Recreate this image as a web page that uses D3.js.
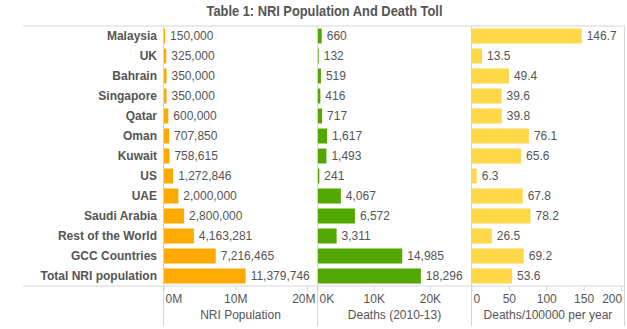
<!DOCTYPE html>
<html>
<head>
<meta charset="utf-8">
<script src="https://cdn.jsdelivr.net/npm/d3@7"></script>
<style>
  body { margin: 0; background: #fff; }
  text { font-family: "Liberation Sans", Arial, sans-serif; }
</style>
</head>
<body>
<script>
// rows, top to bottom
const countries = ['Malaysia', 'UK', 'Bahrain', 'Singapore', 'Qatar', 'Oman', 'Kuwait', 'US',
    'UAE', 'Saudi Arabia', 'Rest of the World', 'GCC Countries', 'Total NRI population'];
const population = [150000, 325000, 350000, 350000, 600000, 707850, 758615, 1272846,
    2000000, 2800000, 4163281, 7216465, 11379746];
const deaths = [660, 132, 519, 416, 717, 1617, 1493, 241, 4067, 6572, 3311, 14985, 18296];
const deathRate = [146.7, 13.5, 49.4, 39.6, 39.8, 76.1, 65.6, 6.3, 67.8, 78.2, 26.5, 69.2, 53.6];

const popTicks = [0, 10e6, 20e6];
const deathTicks = [0, 10000, 20000];
const rateTicks = [0, 50, 100, 150, 200];

const W = 627, H = 329;
const DIM = { top: 26, bottom: 286, frameLeft: 23, frameBottom: 326 };

const svg = d3.select('body').append('svg')
    .attr('width', W)
    .attr('height', H);

// title is set in a condensed bold face, squeezed to a fixed width
svg.append('text')
    .attr('x', 206.5)
    .attr('y', 16)
    .attr('textLength', 236)
    .attr('lengthAdjust', 'spacingAndGlyphs')
    .style('font-size', '14px')
    .style('font-weight', 'bold')
    .style('fill', '#555')
    .text('Table 1: NRI Population And Death Toll');

const y = d3.scaleBand()
    .domain(countries)
    .range([DIM.top, DIM.bottom])
    .paddingInner(0.25)
    .paddingOuter(0.125);

const panes = [
    { values: population, left: 163.5, right: 317.5, max: 21.4e6, ticks: popTicks,
      color: '#ffaa00', label: 'NRI Population', tickFmt: d => d3.format('.0f')(d / 1e6) + 'M',
      valueFmt: d3.format(',') },
    { values: deaths, left: 317.5, right: 471.5, max: 27300, ticks: deathTicks,
      color: '#52a800', label: 'Deaths (2010-13)', tickFmt: d => d3.format('.0f')(d / 1000) + 'K',
      valueFmt: d3.format(',') },
    { values: deathRate, left: 471.5, right: 624.5, max: 204, ticks: rateTicks,
      color: '#ffd84a', label: 'Deaths/100000 per year', tickFmt: d3.format('d'),
      valueFmt: d3.format('.1f') }
];

// frame lines
const lineColor = '#d6d6d6';
svg.append('line')
    .attr('x1', DIM.frameLeft).attr('x2', 625)
    .attr('y1', DIM.top).attr('y2', DIM.top)
    .attr('stroke', lineColor);
svg.append('line')
    .attr('x1', DIM.frameLeft).attr('x2', 625)
    .attr('y1', DIM.bottom).attr('y2', DIM.bottom)
    .attr('stroke', lineColor);
[163.5, 317.5, 471.5, 624.5].forEach(xv => {
    svg.append('line')
        .attr('x1', xv).attr('x2', xv)
        .attr('y1', DIM.top).attr('y2', DIM.frameBottom)
        .attr('stroke', lineColor);
});

// row labels
svg.append('g').selectAll('text')
    .data(countries)
    .join('text')
    .attr('x', 157)
    .attr('y', d => y(d) + y.bandwidth() / 2)
    .attr('dy', '0.35em')
    .attr('text-anchor', 'end')
    .style('font-size', '12px')
    .style('font-weight', 'bold')
    .style('fill', '#555')
    .text(d => d);

panes.forEach(p => {
    const x = d3.scaleLinear()
        .domain([0, p.max])
        .range([p.left + 0.5, p.right]);
    const g = svg.append('g');
    const rows = countries.map((c, i) => ({ name: c, value: p.values[i] }));

    g.selectAll('rect')
        .data(rows)
        .join('rect')
        .attr('x', x(0))
        .attr('y', d => y(d.name))
        .attr('width', d => x(d.value) - x(0))
        .attr('height', y.bandwidth())
        .attr('fill', p.color);

    g.selectAll('text.value')
        .data(rows)
        .join('text')
        .attr('class', 'value')
        .attr('x', d => x(d.value) + 5)
        .attr('y', d => y(d.name) + y.bandwidth() / 2)
        .attr('dy', '0.35em')
        .style('font-size', '12px')
        .style('fill', '#555')
        .text(d => p.valueFmt(d.value));

    // axis below the rows
    const axis = g.append('g');
    axis.selectAll('line')
        .data(p.ticks)
        .join('line')
        .attr('x1', d => x(d)).attr('x2', d => x(d))
        .attr('y1', DIM.bottom).attr('y2', DIM.bottom + 5)
        .attr('stroke', lineColor);
    axis.selectAll('text')
        .data(p.ticks)
        .join('text')
        .attr('x', d => x(d))
        .attr('y', 303)
        .attr('text-anchor', 'middle')
        .style('font-size', '12px')
        .style('fill', '#555')
        .text(p.tickFmt)
        .each(function () {
            // keep tick labels inside their pane
            const b = this.getBBox();
            const lo = p.left + 2, hi = p.right - 2;
            let shift = 0;
            if (b.x < lo) shift = lo - b.x;
            else if (b.x + b.width > hi) shift = hi - (b.x + b.width);
            d3.select(this).attr('x', +d3.select(this).attr('x') + shift);
        });

    g.append('text')
        .attr('x', (p.left + p.right) / 2)
        .attr('y', 319)
        .attr('text-anchor', 'middle')
        .style('font-size', '12px')
        .style('fill', '#555')
        .text(p.label);
});
</script>
</body>
</html>
